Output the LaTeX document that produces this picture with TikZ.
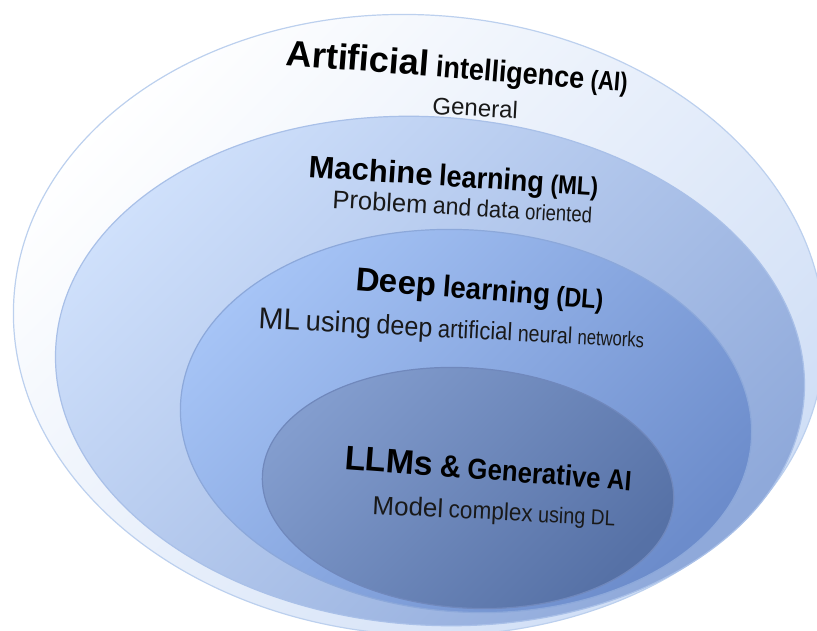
\documentclass[tikz,border=0pt]{standalone}
\usepackage{fontspec}
\usepackage{graphicx}
\setmainfont{Liberation Sans}
\usetikzlibrary{positioning}
\definecolor{aitop}{HTML}{FFFFFF}
\definecolor{aibot}{HTML}{CFDEF6}
\definecolor{airim}{HTML}{BCD0EE}
\definecolor{mltop}{HTML}{CFE0FB}
\definecolor{mlbot}{HTML}{8FA9DA}
\definecolor{mlrim}{HTML}{A9C0E8}
\definecolor{dltop}{HTML}{A6C4F6}
\definecolor{dlbot}{HTML}{6C8CCB}
\definecolor{dlrim}{HTML}{8CA8DA}
\definecolor{lltop}{HTML}{839DCE}
\definecolor{llbot}{HTML}{5671A6}
\definecolor{llrim}{HTML}{7088BC}
% one word of a label: size, horizontal squeeze, text
\newcommand{\pword}[3]{\scalebox{#2}[1]{\fontsize{#1}{#1}\selectfont #3}}

\begin{document}
\begin{tikzpicture}[x=1pt,y=-1pt,
    ring/.style={line width=1.2pt},
    headtext/.style={anchor=base west,font=\bfseries\fontsize{24}{24}\selectfont,
      text=black,inner sep=0pt},
    subtext/.style={anchor=base west,font=\fontsize{20}{20}\selectfont,
      text=black!90,inner sep=0pt}]
  \useasboundingbox (0,0) rectangle (817,631);
  \clip (0,0) rectangle (817,631);
  % nested rings, outermost first
  \foreach \cx/\cy/\rx/\ry/\lo/\hi/\rim in {%
      419/325/406/310/aitop/aibot/airim,
      430/371/375/254/mltop/mlbot/mlrim,
      466/421/286/191/dltop/dlbot/dlrim,
      468/488/206/120/lltop/llbot/llrim}
  {
    \draw[ring,draw=\rim,top color=\lo,bottom color=\hi,shading angle=45,
      rotate around={-4:(\cx,\cy)}]
      (\cx,\cy) ellipse [x radius=\rx pt,y radius=\ry pt];
  }
  % labels
  \node[headtext,rotate=-4.5] (aititle) at (285,65)
    {\pword{36}{1}{Artificial} \pword{30}{0.9}{intelligence} \pword{27}{0.82}{(AI)}};
  \node[subtext,rotate=-3] (aisub) at (432,114) {\pword{24}{1}{General}};
  \node[headtext,rotate=-3.8] (mltitle) at (308,177)
    {\pword{31}{1}{Machine} \pword{30}{0.9}{learning} \pword{26}{0.87}{(ML)}};
  \node[subtext,rotate=-3.3] (mlsub) at (332,208)
    {\pword{25.5}{1}{Problem} \pword{24}{0.96}{and} \pword{23.5}{0.94}{data}
     \pword{22}{0.84}{oriented}};
  \node[headtext,rotate=-4.5] (dltitle) at (355,290)
    {\pword{33}{1}{Deep} \pword{30}{0.92}{learning} \pword{27}{0.87}{(DL)}};
  \node[subtext,rotate=-2.9] (dlsub) at (258,328)
    {\pword{30}{1}{ML} \pword{28.5}{0.96}{using} \pword{27}{0.93}{deep}
     \pword{25}{0.88}{artificial} \pword{23}{0.85}{neural} \pword{21}{0.79}{networks}};
  \node[headtext,rotate=-4.3] (lltitle) at (344,469)
    {\pword{34}{1}{LLMs} \pword{31}{0.94}{\&} \pword{29}{0.89}{Generative}
     \pword{28}{0.86}{AI}};
  \node[subtext,rotate=-2.8] (llsub) at (372,514)
    {\pword{26}{1}{Model} \pword{24.5}{0.92}{complex} \pword{22.5}{0.88}{using}
     \pword{21.5}{0.88}{DL}};
\end{tikzpicture}
\end{document}
